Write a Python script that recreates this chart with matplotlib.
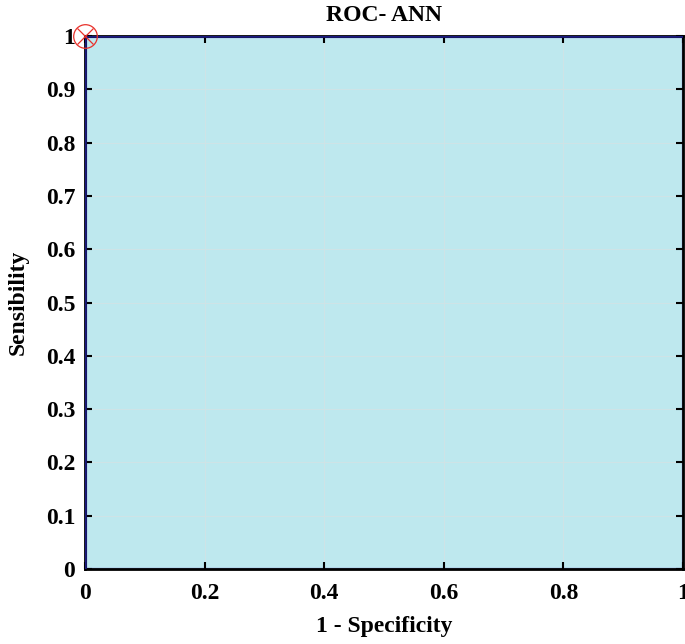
import matplotlib
matplotlib.use("Agg")
import matplotlib.pyplot as plt

fpr = [0.0, 0.0, 1.0]
tpr = [0.0, 1.0, 1.0]
opt_point = [0.0, 1.0]
title = "ROC- ANN"
xlabel = "1 - Specificity"
ylabel = "Sensibility"
ticks = [0, 0.2, 0.4, 0.6, 0.8, 1]
yticks = [0, 0.1, 0.2, 0.3, 0.4, 0.5, 0.6, 0.7, 0.8, 0.9, 1]

plt.rcParams['font.family'] = ['Liberation Serif', 'DejaVu Serif']
plt.rcParams['font.weight'] = 'bold'

fig = plt.figure(figsize=(6.85, 6.44), dpi=100)
ax = fig.add_axes([0.124, 0.1165, 0.873, 0.8275])

ax.fill_between(fpr, tpr, 0, color='#BEE8EE', edgecolor='#8fa0e0', linewidth=2.5, zorder=1)
ax.plot(fpr, tpr, color='#1a1a80', linewidth=1.8, zorder=3)
ax.plot(opt_point[0], opt_point[1], marker='o', markersize=17, markerfacecolor='none',
        markeredgecolor='#e8302a', markeredgewidth=0.9, clip_on=False, zorder=5)
ax.plot(opt_point[0], opt_point[1], marker='x', markersize=12, color='#e8302a',
        markeredgewidth=0.9, clip_on=False, zorder=5)

ax.set_xlim(0, 1)
ax.set_ylim(0, 1)
ax.set_xticks(ticks)
ax.set_xticklabels(['0', '0.2', '0.4', '0.6', '0.8', '1'])
ax.set_yticks(yticks)
ax.set_yticklabels(['0', '0.1', '0.2', '0.3', '0.4', '0.5', '0.6', '0.7', '0.8', '0.9', '1'])
ax.grid(True, color='#cfe3e6', linewidth=0.7)
ax.set_axisbelow(False)
ax.tick_params(direction='in', top=True, right=True, length=5, width=1.5, labelsize=17)
ax.tick_params(axis='x', pad=10)
ax.tick_params(axis='y', pad=7)
for s in ax.spines.values():
    s.set_linewidth(2)
    s.set_color('black')
ax.set_title(title, fontsize=17, fontweight='bold', pad=11)
ax.set_xlabel(xlabel, fontsize=17, fontweight='bold', labelpad=9)
ax.set_ylabel(ylabel, fontsize=17, fontweight='bold', labelpad=12)

fig.savefig('out.png', dpi=100)
